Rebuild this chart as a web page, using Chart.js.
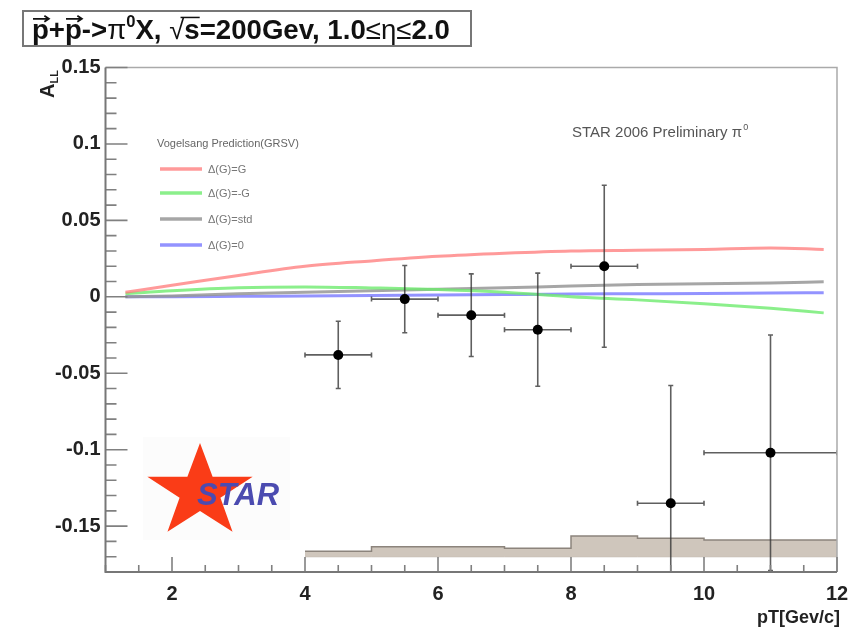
<!DOCTYPE html>
<html>
<head>
<meta charset="utf-8">
<script src="https://cdn.jsdelivr.net/npm/chart.js@4.4.0/dist/chart.umd.min.js"></script>
<style>
  html, body { margin: 0; padding: 0; background: #fff; }
  #wrap { width: 849px; height: 633px; }
</style>
</head>
<body>
<div id="wrap"><canvas id="chart" width="849" height="633"></canvas></div>
<script>
// measured asymmetry per pT bin (centre, bin edges, value, stat error)
const ptCenters = [4.5, 5.5, 6.5, 7.5, 8.5, 9.5, 11];
const ptLow = [4, 5, 6, 7, 8, 9, 10];
const ptHigh = [5, 6, 7, 8, 9, 10, 12];
const allValues = [-0.038, -0.0015, -0.012, -0.0215, 0.020, -0.135, -0.102];
const allErrors = [0.022, 0.022, 0.027, 0.037, 0.053, 0.077, 0.077];

// systematic band (stepped, at the bottom)
const sysEdges = [4, 5, 7, 8, 9, 10, 12];
const sysTop = [-0.1665, -0.1635, -0.1645, -0.1565, -0.158, -0.159, -0.159];
const sysBottom = [-0.170, -0.170, -0.170, -0.170, -0.170, -0.170, -0.170];

// Vogelsang GRSV predictions
const theoryPt = [1.3, 2, 3, 4, 5, 6, 7, 8, 9, 10, 11, 11.8];
const dgMax = [0.003, 0.0075, 0.014, 0.020, 0.0235, 0.0265, 0.0285, 0.030, 0.0305, 0.031, 0.032, 0.031];
const dgMin = [0.002, 0.004, 0.006, 0.0065, 0.0058, 0.0048, 0.003, 0.000, -0.002, -0.0045, -0.0075, -0.0105];
const dgStd = [0.000, 0.0005, 0.002, 0.003, 0.004, 0.005, 0.006, 0.007, 0.008, 0.0085, 0.009, 0.0098];
const dgZero = [0.000, 0.000, 0.0003, 0.0006, 0.0009, 0.0012, 0.0015, 0.0018, 0.002, 0.0022, 0.0025, 0.0027];
const theoryLabels = ["\u0394(G)=G", "\u0394(G)=-G", "\u0394(G)=std", "\u0394(G)=0"];

const xTicks = [2, 4, 6, 8, 10, 12];
const yTicks = [-0.15, -0.1, -0.05, 0, 0.05, 0.1, 0.15];

const FONT = "'Liberation Sans', Arial, Helvetica, sans-serif";
const colors = ["rgba(255,120,120,0.75)", "rgba(110,235,110,0.8)", "rgba(150,150,150,0.85)", "rgba(120,120,255,0.8)"];

const xy = (xs, ys) => xs.map((x, i) => ({ x: x, y: ys[i] }));

function theoryLine(label, data, color) {
  return {
    type: "line", label: label, data: xy(theoryPt, data),
    borderColor: color, borderWidth: 3, pointRadius: 0, fill: false,
    cubicInterpolationMode: "monotone", order: 2
  };
}

// error bars, drawn just before the points
const errorBars = {
  id: "errorBars",
  beforeDatasetDraw(chart, args) {
    if (args.index !== 0) return;
    const { ctx, chartArea: a, scales: { x, y } } = chart;
    ctx.save();
    ctx.beginPath();
    ctx.rect(a.left, a.top, a.right - a.left, a.bottom - a.top);
    ctx.clip();
    ctx.strokeStyle = "rgba(55,55,55,0.8)";
    ctx.lineWidth = 1.6;
    ptCenters.forEach((pt, i) => {
      const px = x.getPixelForValue(pt), py = y.getPixelForValue(allValues[i]);
      const x0 = x.getPixelForValue(ptLow[i]), x1 = x.getPixelForValue(ptHigh[i]);
      const y0 = y.getPixelForValue(allValues[i] + allErrors[i]);
      const y1 = y.getPixelForValue(allValues[i] - allErrors[i]);
      ctx.beginPath();
      ctx.moveTo(x0, py); ctx.lineTo(x1, py);
      ctx.moveTo(px, y0); ctx.lineTo(px, y1);
      ctx.moveTo(x0, py - 2.5); ctx.lineTo(x0, py + 2.5);
      ctx.moveTo(x1, py - 2.5); ctx.lineTo(x1, py + 2.5);
      ctx.moveTo(px - 2.5, y0); ctx.lineTo(px + 2.5, y0);
      ctx.moveTo(px - 2.5, y1); ctx.lineTo(px + 2.5, y1);
      ctx.stroke();
    });
    ctx.restore();
  }
};

// ROOT-like frame with inner ticks
const frame = {
  id: "frame",
  afterDatasetsDraw(chart) {
    const { ctx, chartArea: a, scales: { x, y } } = chart;
    ctx.save();
    ctx.strokeStyle = "#aaa";
    ctx.lineWidth = 1.5;
    ctx.beginPath();
    ctx.moveTo(a.left, a.top); ctx.lineTo(a.right, a.top); ctx.lineTo(a.right, a.bottom);
    ctx.stroke();
    ctx.strokeStyle = "#808080";
    ctx.lineWidth = 1.6;
    ctx.beginPath();
    for (let k = -18; k <= 15; k++) {
      const py = y.getPixelForValue(k / 100);
      const len = k % 5 === 0 ? 22 : 11;
      ctx.moveTo(a.left, py); ctx.lineTo(a.left + len, py);
    }
    for (let k = 2; k <= 24; k++) {
      const v = k / 2;
      const px = x.getPixelForValue(v);
      const len = v % 2 === 0 ? 15 : 7;
      ctx.moveTo(px, a.bottom); ctx.lineTo(px, a.bottom - len);
    }
    ctx.stroke();
    ctx.strokeStyle = "#777";
    ctx.lineWidth = 2;
    ctx.beginPath();
    ctx.moveTo(a.left, a.top); ctx.lineTo(a.left, a.bottom); ctx.lineTo(a.right, a.bottom);
    ctx.stroke();
    ctx.restore();
  }
};

function drawStar(ctx, cx, cy, R, r, sx) {
  ctx.beginPath();
  for (let i = 0; i < 10; i++) {
    const ang = -Math.PI / 2 + i * Math.PI / 5;
    const rad = i % 2 === 0 ? R : r;
    const px = cx + Math.cos(ang) * rad * sx, py = cy + Math.sin(ang) * rad;
    if (i === 0) ctx.moveTo(px, py); else ctx.lineTo(px, py);
  }
  ctx.closePath();
  ctx.fill();
}

function drawTitle(ctx) {
  ctx.save();
  ctx.strokeStyle = "#777";
  ctx.lineWidth = 2;
  ctx.strokeRect(23, 11, 448, 35);
  const base = 39;
  let size = 25;
  const bold = s => "bold " + s + "px " + FONT;
  const reg = s => s + "px " + FONT;
  const parts = () => [
    { t: "p", f: bold(size), arrow: true },
    { t: "+", f: bold(size) },
    { t: "p", f: bold(size), arrow: true },
    { t: "->", f: bold(size) },
    { t: "\u03c0", f: reg(size) },
    { t: "0", f: bold(size * 0.6), dy: -size * 0.42 },
    { t: "X, ", f: bold(size) },
    { t: "\u221a", f: reg(size), root: true },
    { t: "s", f: bold(size), over: true },
    { t: "=200Gev, 1.0", f: bold(size) },
    { t: "\u2264", f: reg(size) },
    { t: "\u03b7", f: reg(size) },
    { t: "\u2264", f: reg(size) },
    { t: "2.0", f: bold(size) }
  ];
  const total = () => parts().reduce((s, p) => { ctx.font = p.f; return s + ctx.measureText(p.t).width; }, 0);
  size = size * 418 / total();
  let xPos = 32;
  let rootX = 0;
  ctx.fillStyle = "#111";
  ctx.strokeStyle = "#111";
  ctx.textBaseline = "alphabetic";
  parts().forEach(p => {
    ctx.font = p.f;
    const w = ctx.measureText(p.t).width;
    ctx.fillText(p.t, xPos, base + (p.dy || 0));
    if (p.arrow) {
      const ay = base - size * 0.73;
      ctx.lineWidth = 1.8;
      ctx.beginPath();
      ctx.moveTo(xPos + 1, ay); ctx.lineTo(xPos + w, ay);
      ctx.moveTo(xPos + w - 4.5, ay - 3); ctx.lineTo(xPos + w, ay); ctx.lineTo(xPos + w - 4.5, ay + 3);
      ctx.stroke();
    }
    if (p.root) rootX = xPos + w * 0.75;
    if (p.over) {
      ctx.lineWidth = 1.5;
      ctx.beginPath();
      ctx.moveTo(rootX, base - size * 0.78); ctx.lineTo(xPos + w, base - size * 0.78);
      ctx.stroke();
    }
    xPos += w;
  });
  ctx.restore();
}

const decorations = {
  id: "decorations",
  afterDraw(chart) {
    const ctx = chart.ctx;
    drawTitle(ctx);
    ctx.save();

    // axis titles
    ctx.fillStyle = "#222";
    ctx.font = "bold 18px " + FONT;
    ctx.textAlign = "right";
    ctx.fillText("pT[Gev/c]", 840, 623);
    ctx.translate(54, 98);
    ctx.rotate(-Math.PI / 2);
    ctx.textAlign = "left";
    ctx.font = "bold 20px " + FONT;
    ctx.fillText("A", 0, 0);
    const aw = ctx.measureText("A").width;
    ctx.font = "bold 11px " + FONT;
    ctx.fillText("LL", aw, 4);
    ctx.setTransform(1, 0, 0, 1, 0, 0);

    // STAR preliminary label
    ctx.fillStyle = "#555";
    ctx.font = "15px " + FONT;
    ctx.textAlign = "left";
    const lab = "STAR 2006 Preliminary \u03c0";
    ctx.fillText(lab, 572, 137);
    const lw = ctx.measureText(lab).width;
    ctx.font = "9px " + FONT;
    ctx.fillText("0", 572 + lw + 1, 130);

    // legend
    ctx.fillStyle = "#666";
    ctx.font = "11px " + FONT;
    ctx.fillText("Vogelsang Prediction(GRSV)", 157, 147);
    const legY = [169, 193, 219, 245];
    theoryLabels.forEach((t, i) => {
      ctx.strokeStyle = colors[i];
      ctx.lineWidth = 3.5;
      ctx.beginPath();
      ctx.moveTo(160, legY[i]); ctx.lineTo(202, legY[i]);
      ctx.stroke();
      ctx.fillStyle = "#777";
      ctx.font = "11px " + FONT;
      ctx.fillText(t, 208, legY[i] + 4);
    });

    // STAR logo
    ctx.fillStyle = "#fcfcfc";
    ctx.fillRect(143, 437, 147, 103);
    ctx.fillStyle = "#fa3c17";
    drawStar(ctx, 200, 492, 49, 19, 1.13);
    ctx.fillStyle = "#4b4bb0";
    ctx.font = "italic bold 31px " + FONT;
    ctx.fillText("STAR", 197, 505);
    ctx.restore();
  }
};

new Chart(document.getElementById("chart"), {
  data: {
    datasets: [
      {
        type: "scatter", label: "STAR 2006", data: xy(ptCenters, allValues),
        pointRadius: 5, pointBackgroundColor: "#000", pointBorderWidth: 0, order: 0
      },
      theoryLine(theoryLabels[0], dgMax, colors[0]),
      theoryLine(theoryLabels[1], dgMin, colors[1]),
      theoryLine(theoryLabels[2], dgStd, colors[2]),
      theoryLine(theoryLabels[3], dgZero, colors[3]),
      {
        type: "line", label: "sys", data: xy(sysEdges, sysTop), stepped: "before",
        borderColor: "#8c847c", borderWidth: 1.5, backgroundColor: "#cfc6bc",
        fill: "+1", pointRadius: 0, order: 3
      },
      {
        type: "line", label: "sysLow", data: xy(sysEdges, sysBottom), stepped: "before",
        borderColor: "#b0a89f", borderWidth: 1, pointRadius: 0, fill: false, order: 4
      }
    ]
  },
  options: {
    responsive: false,
    animation: false,
    layout: { padding: { top: 67.5, right: 12, left: 0, bottom: 0 } },
    plugins: { legend: { display: false }, tooltip: { enabled: false } },
    scales: {
      x: {
        type: "linear", min: 1, max: 12,
        grid: { display: false, drawTicks: false }, border: { display: false },
        ticks: { font: { family: FONT, size: 20, weight: "bold" }, color: "#222", padding: 10, maxRotation: 0,
                 callback: v => String(v) },
        afterBuildTicks: s => { s.ticks = xTicks.map(v => ({ value: v })); },
        afterFit: s => { s.height = 61; s.paddingLeft = 0; s.paddingRight = 0; }
      },
      y: {
        type: "linear", min: -0.18, max: 0.15,
        grid: { display: false, drawTicks: false }, border: { display: false },
        ticks: { font: { family: FONT, size: 20, weight: "bold" }, color: "#222", padding: 5,
                 callback: v => String(v) },
        afterBuildTicks: s => { s.ticks = yTicks.map(v => ({ value: v })); },
        afterFit: s => { s.width = 105.5; s.paddingTop = 0; s.paddingBottom = 0; }
      }
    }
  },
  plugins: [errorBars, frame, decorations]
});
</script>
</body>
</html>
